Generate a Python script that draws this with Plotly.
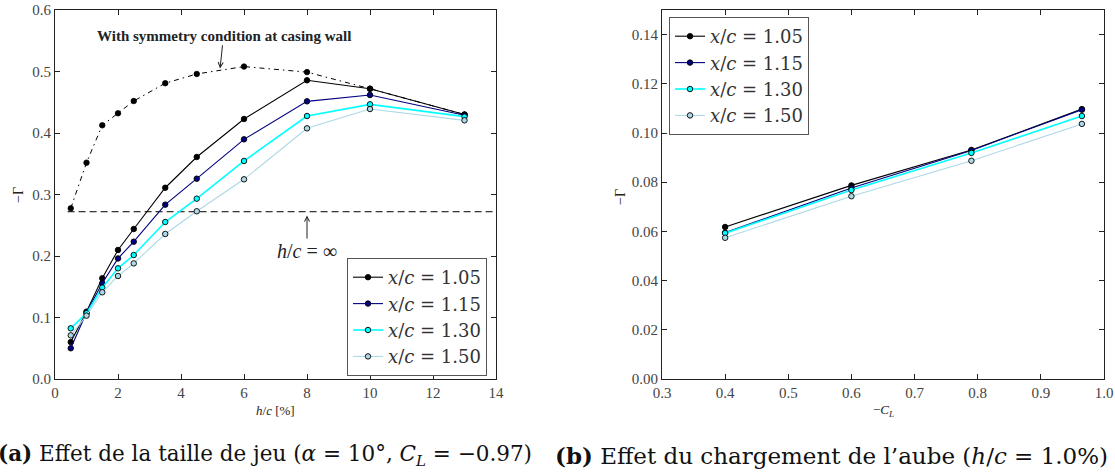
import plotly.graph_objects as go

# ---------------- data ----------------
hc_sym = [0.5, 1.0, 1.5, 2.0, 2.5, 3.5, 4.5, 6.0, 8.0, 10.0, 13.0]
gamma_sym = [0.2775, 0.3517, 0.4125, 0.432, 0.452, 0.481, 0.496, 0.508, 0.499, 0.472, 0.430]

hc = [0.5, 1.0, 1.5, 2.0, 2.5, 3.5, 4.5, 6.0, 8.0, 10.0, 13.0]
g_105 = [0.060, 0.1095, 0.1637, 0.2098, 0.2439, 0.311, 0.361, 0.4228, 0.4857, 0.472, 0.430]
g_115 = [0.050, 0.108, 0.1556, 0.196, 0.2233, 0.2835, 0.3257, 0.3897, 0.4515, 0.4618, 0.429]
g_130 = [0.0824, 0.107, 0.1485, 0.180, 0.2016, 0.2553, 0.2932, 0.3545, 0.4276, 0.4466, 0.4266]
g_150 = [0.071, 0.103, 0.141, 0.1675, 0.188, 0.2358, 0.2727, 0.3247, 0.4076, 0.439, 0.4206]

hinf_x = [0.4, 14.0]
hinf_gamma = 0.272

cl = [0.4, 0.6, 0.79, 0.965]
r_105 = [0.0618, 0.0787, 0.0931, 0.1097]
r_115 = [0.0595, 0.0776, 0.0929, 0.1095]
r_130 = [0.0593, 0.0768, 0.0919, 0.1069]
r_150 = [0.0574, 0.0743, 0.0887, 0.1037]

series_names = ["<i>x</i>/<i>c</i> = 1.05", "<i>x</i>/<i>c</i> = 1.15",
                "<i>x</i>/<i>c</i> = 1.30", "<i>x</i>/<i>c</i> = 1.50"]
series_colors = ["#000000", "#000080", "#00FFFF", "#ADD8E6"]
series_widths = [1.1, 1.1, 1.6, 1.1]

left_ticks = [0, 2, 4, 6, 8, 10, 12, 14]
left_yticks = [0.0, 0.1, 0.2, 0.3, 0.4, 0.5, 0.6]
right_ticks = [0.3, 0.4, 0.5, 0.6, 0.7, 0.8, 0.9, 1.0]
right_yticks = [0.00, 0.02, 0.04, 0.06, 0.08, 0.10, 0.12, 0.14]

SERIF = "Liberation Serif"
WIDE_SERIF = "DejaVu Serif"
W, H = 1115, 472

fig = go.Figure()

# symmetry curve
fig.add_trace(go.Scatter(
    x=hc_sym, y=gamma_sym, mode="lines+markers", showlegend=False,
    line=dict(color="black", width=1, dash="5px,4px,1.5px,4px"),
    marker=dict(color="black", size=5.5, line=dict(color="black", width=0.8)),
    xaxis="x", yaxis="y"))

# h/c = inf line
fig.add_trace(go.Scatter(
    x=hinf_x, y=[hinf_gamma] * len(hinf_x), mode="lines", showlegend=False,
    line=dict(color="black", width=1, dash="7px,4px"), xaxis="x", yaxis="y"))

for name, ys, col, lw in zip(series_names, [g_105, g_115, g_130, g_150],
                             series_colors, series_widths):
    fig.add_trace(go.Scatter(
        x=hc, y=ys, mode="lines+markers", name=name, legend="legend",
        line=dict(color=col, width=lw),
        marker=dict(color=col, size=5.5, line=dict(color="black", width=0.9)),
        xaxis="x", yaxis="y"))

for name, ys, col, lw in zip(series_names, [r_105, r_115, r_130, r_150],
                             series_colors, series_widths):
    fig.add_trace(go.Scatter(
        x=cl, y=ys, mode="lines+markers", name=name, legend="legend2",
        line=dict(color=col, width=lw),
        marker=dict(color=col, size=5.5, line=dict(color="black", width=0.9)),
        xaxis="x2", yaxis="y2"))

axis_common = dict(
    showline=True, linecolor="#222", linewidth=1, mirror="ticks",
    ticks="inside", ticklen=5, tickwidth=1, tickcolor="#222",
    showgrid=False, zeroline=False, automargin=False,
    tickfont=dict(family=SERIF, size=15, color="#444"),
)

def px_x(p):
    return p / W

def px_y(p):
    return 1 - p / H

legend_common = dict(
    font=dict(family=WIDE_SERIF, size=18, color="#333"),
    bgcolor="white", bordercolor="#555", borderwidth=1,
    xanchor="left", yanchor="top", itemwidth=30, tracegroupgap=0,
)

fig.update_layout(
    template="none",
    width=W, height=H,
    margin=dict(l=0, r=0, t=0, b=0, autoexpand=False),
    paper_bgcolor="white", plot_bgcolor="white",
    xaxis=dict(domain=[px_x(55), px_x(496)], range=[0, 14],
               tickvals=left_ticks, ticktext=[str(t) for t in left_ticks],
               anchor="y", **axis_common),
    yaxis=dict(domain=[px_y(379), px_y(10)], range=[0, 0.6],
               tickvals=left_yticks, ticktext=[f"{t:.1f}" for t in left_yticks],
               anchor="x", **axis_common),
    xaxis2=dict(domain=[px_x(662), px_x(1104)], range=[0.3, 1.0],
                tickvals=right_ticks, ticktext=[f"{t:.1f}" for t in right_ticks],
                anchor="y2", **axis_common),
    yaxis2=dict(domain=[px_y(379), px_y(10)], range=[0, 0.15],
                tickvals=right_yticks, ticktext=[f"{t:.2f}" for t in right_yticks],
                anchor="x2", **axis_common),
    legend=dict(x=px_x(347), y=px_y(258), **legend_common),
    legend2=dict(x=px_x(669), y=px_y(17), **legend_common),
)

ann_font = dict(family=SERIF, color="#222")
center = dict(xanchor="center", yanchor="middle", xref="paper", yref="paper", showarrow=False)
annotations = [
    # axis titles
    dict(text="−Γ", x=px_x(18), y=px_y(195), textangle=-90,
         font=dict(size=14, **ann_font), **center),
    dict(text="−Γ", x=px_x(620), y=px_y(197), textangle=-90,
         font=dict(size=14, **ann_font), **center),
    dict(text="<i>h</i>/<i>c</i> [%]", x=px_x(275), y=px_y(410),
         font=dict(size=13, **ann_font), **center),
    dict(text="−<i>C</i><sub><i>L</i></sub>", x=px_x(883), y=px_y(410),
         font=dict(size=13, **ann_font), **center),
    # captions
    dict(text="<b>(a)</b> Effet de la taille de jeu (<i>α</i> = 10°, <i>C</i><sub><i>L</i></sub> = −0.97)",
         x=px_x(-4), y=px_y(455), xref="paper", yref="paper", xanchor="left", yanchor="middle",
         showarrow=False, font=dict(size=21.5, family=WIDE_SERIF, color="#111")),
    dict(text="<b>(b)</b> Effet du chargement de l’aube (<i>h</i>/<i>c</i> = 1.0%)",
         x=px_x(553), y=px_y(455), xref="paper", yref="paper", xanchor="left", yanchor="middle",
         showarrow=False, font=dict(size=23, family=WIDE_SERIF, color="#111")),
    # in-plot annotations
    dict(text="<b>With symmetry condition at casing wall</b>", x=5.24, y=0.505,
         ax=5.35, ay=0.558, xref="x", yref="y", axref="x", ayref="y",
         showarrow=True, arrowhead=5, arrowsize=1, arrowwidth=1, arrowcolor="#222",
         font=dict(size=15, **ann_font)),
    dict(text="<i>h</i>/<i>c</i> = ∞", x=8, y=0.266, ax=8, ay=0.208,
         xref="x", yref="y", axref="x", ayref="y",
         showarrow=True, arrowhead=5, arrowsize=1, arrowwidth=1, arrowcolor="#222",
         font=dict(size=20, **ann_font)),
]
fig.update_layout(annotations=annotations)

fig.write_html("out.html", config={"displayModeBar": False},
               post_script="document.body.style.margin='0';")
